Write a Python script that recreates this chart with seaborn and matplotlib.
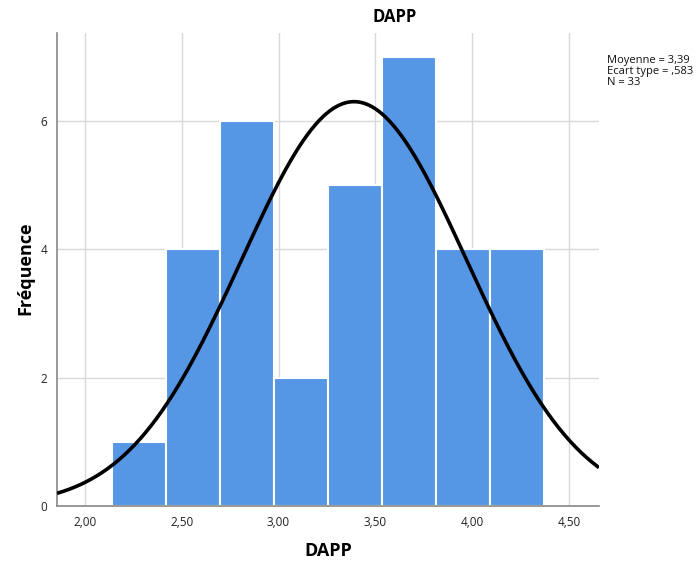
import numpy as np
import pandas as pd
import seaborn as sns
import matplotlib
matplotlib.use("Agg")
import matplotlib.pyplot as plt

# ---- data ----
counts = [1, 4, 6, 2, 5, 7, 4, 4]
bin_start = 2.139
bin_width = 0.279
mean_val = 3.39
sd_val = 0.583
n_val = 33
x_ticks = [2.0, 2.5, 3.0, 3.5, 4.0, 4.5]
x_tick_labels = ["2,00", "2,50", "3,00", "3,50", "4,00", "4,50"]
y_ticks = [0, 2, 4, 6]
y_tick_labels = ["0", "2", "4", "6"]
stats_text = "Moyenne = 3,39\nEcart type = ,583\nN = 33"

edges = [bin_start + bin_width * i for i in range(len(counts) + 1)]
centers = [(edges[i] + edges[i + 1]) / 2 for i in range(len(counts))]
df = pd.DataFrame({"DAPP": centers, "count": counts})

sns.set_theme(style="white")
plt.rcParams['font.family'] = ['Open Sans', 'DejaVu Sans']

fig = plt.figure(figsize=(6.96, 5.66), dpi=100)
ax = fig.add_axes([57/696, 60/566, (599-57)/696, (506-33)/566])

sns.histplot(data=df, x="DAPP", weights="count", bins=edges, ax=ax,
             color="#5596E5", edgecolor="white", linewidth=1.5, alpha=1.0, zorder=2)

xmin, xmax = 1.856, 4.655
xs = np.linspace(xmin, xmax, 400)
pdf = n_val * bin_width / (sd_val * np.sqrt(2 * np.pi)) * np.exp(-0.5 * ((xs - mean_val) / sd_val) ** 2)
ax.plot(xs, pdf, color="black", linewidth=2.6, zorder=3, solid_capstyle="butt")

ax.set_xlim(xmin, xmax)
ax.set_ylim(0, 7.37)
ax.set_xticks(x_ticks)
ax.set_xticklabels(x_tick_labels, fontsize=8.5, color="#222222")
ax.set_yticks(y_ticks)
ax.set_yticklabels(y_tick_labels, fontsize=8.5, color="#222222")
ax.tick_params(length=0, pad=7)
ax.grid(True, color="#d8d8d8", linewidth=1.0, zorder=0)
ax.set_axisbelow(True)
for s in ["top", "right"]:
    ax.spines[s].set_visible(False)
ax.spines["left"].set_color("#888888")
ax.spines["bottom"].set_color("#888888")
ax.spines["left"].set_linewidth(1.2)
ax.spines["bottom"].set_linewidth(1.2)

ax.set_xlabel("")
ax.set_ylabel("")
fig.text(328/696, 1 - 551/566, "DAPP", ha="center", va="center", fontsize=13, fontweight="bold", color="black")
fig.text(25/696, 1 - 268/566, "Fréquence", ha="center", va="center", rotation=90,
         fontsize=13, fontweight="bold", color="black")

fig.text(395/696, 1 - 17/566, "DAPP", ha="center", va="center", fontsize=12, fontweight="bold", color="black")
fig.text(607/696, 1 - 55/566, stats_text, ha="left", va="top", fontsize=8, linespacing=1.0, color="#111111")

fig.savefig("out.png", dpi=100)
